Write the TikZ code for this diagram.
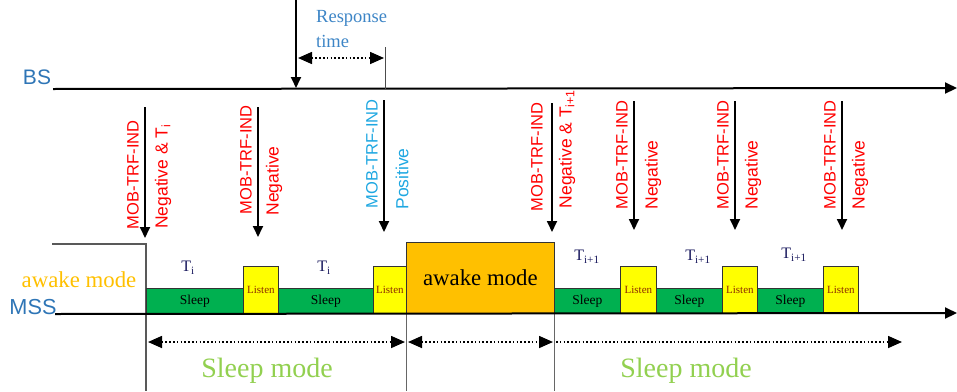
\documentclass[tikz,border=0pt]{standalone}
\usepackage{fontspec}
\setmainfont{Liberation Serif}
\setsansfont{Liberation Sans}
\usetikzlibrary{arrows.meta}
\definecolor{mred}{HTML}{FF0000}
\definecolor{mblue}{HTML}{1EA7E1}
\definecolor{lblue}{HTML}{2E75B6}
\definecolor{rblue}{HTML}{3D85C6}
\definecolor{aorange}{HTML}{FFC000}
\definecolor{sgreen}{HTML}{00B050}
\definecolor{lgreen}{HTML}{92D050}
\definecolor{lyellow}{HTML}{FFFF00}
\definecolor{ltext}{HTML}{8B2A00}
\definecolor{ttext}{HTML}{1A1A5E}
\definecolor{edgegray}{HTML}{333333}
\begin{document}
\begin{tikzpicture}[x=1pt,y=-1pt,
  msgarrow/.style={line width=1.8pt,-{Triangle[width=10pt,length=11pt]}},
  axisline/.style={line width=2pt,-{Triangle[width=11pt,length=12pt]}},
  divider/.style={line width=1pt,draw=black!60},
  dotarrow/.style={line width=1.6pt,dash pattern=on 1.5pt off 2.3pt},
  twohead/.style={{Triangle[width=12pt,length=14pt]}-{Triangle[width=12pt,length=14pt]}},
  onehead/.style={-{Triangle[width=12pt,length=14pt]}},
  mobl/.style={rotate=90,inner sep=0pt,font=\sffamily\fontsize{16.5}{18}\selectfont,text=mred},
  negl/.style={rotate=90,inner sep=0pt,font=\sffamily\fontsize{17.5}{19}\selectfont,text=mred},
  sleepbox/.style={draw=edgegray,line width=0.8pt,fill=sgreen,anchor=south west,inner sep=0pt,
     minimum height=25pt,font=\fontsize{13.5}{14}\selectfont,text=black},
  listenbox/.style={draw=edgegray,line width=0.8pt,fill=lyellow,anchor=south west,inner sep=0pt,
     minimum height=47pt,font=\fontsize{11}{12}\selectfont,text=ltext},
  tlabel/.style={inner sep=0pt,font=\fontsize{16}{17}\selectfont,text=ttext},
  modetext/.style={inner sep=0pt,anchor=base,font=\fontsize{28}{30}\selectfont,text=lgreen}
]
\useasboundingbox (0,0) rectangle (957,391);

% ---------- BS axis ----------
\node[inner sep=0pt,font=\sffamily\fontsize{21}{22}\selectfont,text=lblue] (bs) at (37,77) {BS};
\coordinate (bsL) at (53,89);
\coordinate (bsR) at (957,88);
\draw[axisline] (bsL) -- (bsR);

% response time
\coordinate (rtop) at (296,0);
\coordinate (rbot) at (296,88);
\draw[msgarrow] (rtop) -- (rbot);
\coordinate (rvt) at (385,47);
\coordinate (rvb) at (385,89);
\draw[line width=1pt,draw=black!70] (rvt) -- (rvb);
\coordinate (ra) at (298,58);
\coordinate (rb) at (384,58);
\draw[dotarrow,twohead] (ra) -- (rb);
\node[inner sep=0pt,anchor=base west,font=\fontsize{18.5}{20}\selectfont,text=rblue] (resp) at (316,22) {Response};
\node[inner sep=0pt,anchor=base west,font=\fontsize{18.5}{20}\selectfont,text=rblue] (rtime) at (316,47) {time};

% ---------- MSS axis ----------
\node[inner sep=0pt,font=\sffamily\fontsize{21.7}{23}\selectfont,text=lblue] (mss) at (33,307) {MSS};
\node[inner sep=0pt,font=\fontsize{22.8}{24}\selectfont,text=aorange] (awl) at (79,280) {awake mode};
\coordinate (msL) at (55,314);
\coordinate (msR) at (957,313);

% awake level and dividers
\coordinate (lvA) at (52,244);
\coordinate (lvB) at (146,244);
\coordinate (d1b) at (146,391);
\draw[line width=1.3pt,draw=black!65] (lvA) -- (lvB) -- (d1b);
\coordinate (d2t) at (406,243);
\coordinate (d2b) at (406,391);
\draw[divider] (d2t) -- (d2b);
\coordinate (d3t) at (554,243);
\coordinate (d3b) at (554,391);
\draw[divider] (d3t) -- (d3b);

% boxes
\node[sleepbox,minimum width=97pt] (s1) at (146,314) {Sleep};
\node[listenbox,minimum width=35pt] (l1) at (243,314) {Listen};
\node[sleepbox,minimum width=95pt] (s2) at (278,314) {Sleep};
\node[listenbox,minimum width=33pt] (l2) at (373,314) {Listen};
\node[draw=edgegray,line width=0.8pt,fill=aorange,anchor=south west,inner sep=0pt,
      minimum width=148pt,minimum height=71pt,font=\fontsize{22.8}{24}\selectfont] (aw) at (406,314) {awake mode};
\node[sleepbox,minimum width=66pt] (s3) at (554,314) {Sleep};
\node[listenbox,minimum width=36pt] (l3) at (620,314) {Listen};
\node[sleepbox,minimum width=66pt] (s4) at (656,314) {Sleep};
\node[listenbox,minimum width=35pt] (l4) at (722,314) {Listen};
\node[sleepbox,minimum width=66pt] (s5) at (757,314) {Sleep};
\node[listenbox,minimum width=35pt] (l5) at (823,314) {Listen};

\draw[axisline] (msL) -- (msR);

% T labels
\node[tlabel] (t1) at (188,268) {T\textsubscript{i}};
\node[tlabel] (t2) at (324,268) {T\textsubscript{i}};
\node[tlabel] (t3) at (587,257) {T\textsubscript{i+1}};
\node[tlabel] (t4) at (698,257) {T\textsubscript{i+1}};
\node[tlabel] (t5) at (794,255) {T\textsubscript{i+1}};

% ---------- MOB-TRF-IND messages ----------
\coordinate (a1t) at (145,107); \coordinate (a1b) at (145,238);
\coordinate (a2t) at (258,107); \coordinate (a2b) at (258,237);
\coordinate (a3t) at (384,100); \coordinate (a3b) at (384,232);
\coordinate (a4t) at (552,103); \coordinate (a4b) at (552,232);
\coordinate (a5t) at (634,101); \coordinate (a5b) at (634,230);
\coordinate (a6t) at (735,101); \coordinate (a6b) at (735,230);
\coordinate (a7t) at (842,101); \coordinate (a7b) at (842,230);
\foreach \i in {1,...,7} {\draw[msgarrow] (a\i t) -- (a\i b);}

\node[mobl] (m1) at (133,175) {MOB-TRF-IND};
\node[negl] (n1) at (163,176.5) {Negative \& T\textsubscript{i}};
\node[mobl] (m2) at (246,160) {MOB-TRF-IND};
\node[negl] (n2) at (274,181) {Negative};
\node[mobl,text=mblue] (m3) at (372,154) {MOB-TRF-IND};
\node[negl,text=mblue] (n3) at (402,179) {Positive};
\node[mobl] (m4) at (537,157) {MOB-TRF-IND};
\node[negl] (n4) at (567,149) {Negative \& T\textsubscript{i+1}};
\node[mobl] (m5) at (622,155) {MOB-TRF-IND};
\node[negl] (n5) at (653,175) {Negative};
\node[mobl] (m6) at (723,155) {MOB-TRF-IND};
\node[negl] (n6) at (753,175) {Negative};
\node[mobl] (m7) at (830,155) {MOB-TRF-IND};
\node[negl] (n7) at (860,175) {Negative};

% ---------- mode arrows ----------
\coordinate (p1) at (148,342); \coordinate (p2) at (405,342);
\coordinate (p3) at (408,342); \coordinate (p4) at (553,342);
\coordinate (p5) at (556,342); \coordinate (p6) at (902,342);
\draw[dotarrow,twohead] (p1) -- (p2);
\draw[dotarrow,twohead] (p3) -- (p4);
\draw[dotarrow,onehead] (p5) -- (p6);
\node[modetext] (sm1) at (267,377) {Sleep mode};
\node[modetext] (sm2) at (686,377) {Sleep mode};
\end{tikzpicture}
\end{document}
